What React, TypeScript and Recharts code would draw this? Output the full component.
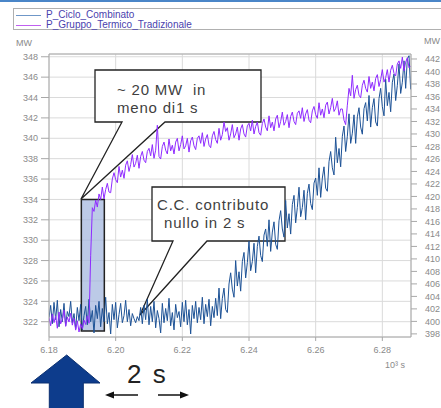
import { LineChart, Line, XAxis, YAxis, CartesianGrid, ReferenceArea, Customized } from 'recharts'

// sampling of the record (10^3 s)
const T0 = 6.18
const DT = 0.0005

const X_TICKS = [6.18, 6.2, 6.22, 6.24, 6.26, 6.28]
const LEFT_TICKS = [322, 324, 326, 328, 330, 332, 334, 336, 338, 340, 342, 344, 346, 348]
const RIGHT_TICKS = [
  398, 400, 402, 404, 406, 408, 410, 412, 414, 416, 418, 420,
  422, 424, 426, 428, 430, 432, 434, 436, 438, 440, 442,
]

// P_Ciclo_Combinato, MW (left axis)
const cicloCombinato = [
  322.4, 323.6, 321.8, 323.9, 322.2, 324.1, 321.5, 323.2, 322.0, 323.8,
  321.6, 323.0, 322.5, 324.0, 321.9, 322.8, 321.3, 323.4, 322.1, 323.7,
  321.2, 322.6, 323.5, 321.7, 324.2, 322.0, 323.1, 320.9, 323.6, 322.3,
  324.0, 321.5, 323.3, 322.0, 324.4, 321.8, 322.9, 320.8, 323.7, 322.2,
  323.9, 321.4, 322.7, 323.8, 321.9, 322.6, 324.1, 322.0, 323.2, 321.6,
  322.8, 322.3, 321.9, 322.5, 322.1, 323.4, 321.8, 323.6, 322.2, 324.2,
  321.7, 323.5, 322.0, 324.0, 321.4, 323.1, 322.3, 320.9, 323.8, 321.9,
  323.3, 322.1, 324.3, 321.6, 322.9, 321.2, 323.7, 322.4, 323.0, 321.5,
  323.9, 322.0, 324.1, 321.7, 323.2, 320.8, 323.6, 322.3, 324.0, 321.9,
  323.4, 322.2, 324.4, 321.8, 323.7, 322.5, 324.2, 321.6, 323.5, 322.4,
  324.3, 322.6, 325.3, 322.3, 324.3, 325.3, 323.2, 322.9, 325.7, 326.8,
  325.2, 324.4, 328.0, 325.5, 326.9, 325.0, 327.9, 328.8, 326.3, 327.8,
  329.9, 327.0, 327.9, 329.7, 326.8, 329.4, 330.4, 328.5, 327.9, 330.5,
  331.1, 329.4, 332.0, 328.9, 330.8, 331.8, 329.6, 329.1, 331.9, 332.9,
  331.1, 330.3, 333.9, 331.2, 332.6, 330.6, 333.5, 334.4, 331.7, 333.2,
  335.2, 332.3, 333.2, 334.9, 332.0, 334.6, 335.5, 333.6, 333.0, 335.6,
  336.1, 334.4, 337.1, 334.2, 336.1, 337.2, 335.1, 334.8, 337.7, 338.7,
  337.1, 336.4, 340.1, 337.6, 339.0, 337.2, 340.2, 341.2, 338.7, 340.2,
  342.4, 339.5, 340.5, 342.3, 339.5, 342.1, 343.0, 341.1, 340.4, 342.9,
  343.5, 341.7, 344.2, 341.1, 343.0, 343.9, 341.6, 341.2, 343.9, 344.9,
  343.1, 342.2, 345.8, 343.2, 344.5, 342.6, 345.5, 346.3, 343.7, 345.2,
  347.3, 344.4, 345.5, 347.6, 344.9, 347.8, 348.1, 344.8,
]

// P_Gruppo_Termico_Tradizionale, MW (right axis)
const gruppoTermico = [
  400.6, 399.3, 401.2, 399.8, 400.9, 398.9, 401.5, 399.6, 400.3, 401.8,
  399.2, 400.7, 399.9, 401.3, 399.4, 400.5, 398.6, 400.1, 398.3, 399.6,
  398.8, 400.2, 399.5, 400.9, 399.7, 410.5, 418.2, 417.6, 419.4, 418.3,
  420.4, 419.5, 421.5, 419.6, 421.1, 422.1, 420.7, 420.6, 422.8, 423.8,
  422.7, 422.2, 424.8, 423.1, 424.2, 422.9, 425.0, 425.7, 424.0, 425.1,
  426.7, 424.7, 425.3, 426.6, 424.5, 426.4, 427.2, 425.8, 425.4, 427.2,
  427.7, 426.5, 428.3, 426.1, 427.4, 431.4, 426.4, 426.0, 428.0, 428.7,
  427.4, 426.8, 429.2, 427.3, 428.2, 426.8, 428.7, 429.3, 427.3, 428.3,
  429.7, 427.6, 428.1, 429.3, 427.1, 428.9, 429.5, 428.1, 427.5, 429.3,
  429.7, 428.5, 430.2, 428.0, 429.2, 429.9, 428.2, 427.8, 429.7, 430.4,
  429.1, 428.5, 430.9, 429.0, 429.9, 431.9, 430.4, 431.0, 429.0, 430.0,
  431.5, 429.4, 430.0, 431.1, 429.0, 430.8, 431.5, 430.0, 429.5, 431.3,
  431.7, 430.5, 432.2, 430.0, 431.2, 431.9, 430.2, 429.8, 431.7, 432.4,
  431.1, 430.5, 432.9, 431.0, 431.9, 430.5, 432.4, 433.0, 431.0, 432.0,
  433.5, 431.4, 432.0, 433.1, 431.0, 432.8, 433.5, 432.0, 431.5, 433.3,
  433.7, 432.5, 434.2, 432.0, 433.2, 433.9, 432.2, 431.8, 433.7, 434.4,
  433.1, 432.5, 435.0, 433.0, 434.0, 432.6, 434.6, 435.1, 433.2, 434.2,
  435.7, 433.6, 434.1, 435.3, 433.0, 434.0, 434.0, 432.2, 431.5, 434.6,
  437.3, 436.1, 439.4, 435.7, 437.1, 437.8, 436.2, 435.8, 437.8, 438.6,
  437.3, 436.7, 439.2, 437.3, 438.3, 436.9, 438.9, 439.5, 437.6, 438.7,
  440.3, 438.3, 439.0, 440.3, 438.3, 440.2, 441.0, 439.7, 439.3, 441.2,
  441.7, 440.5, 442.3, 440.1, 441.5, 442.2, 440.6, 440.9,
]

const rows = cicloCombinato.map((v, i) => ({
  t: T0 + i * DT,
  ciclo: v,
  gruppo: gruppoTermico[i],
}))

const FONT = '"Liberation Sans", Arial, sans-serif'
const tickStyle = { fill: '#8a8a8a', fontSize: 9, fontFamily: FONT }

// callouts, arrow and "2 s" drawn on the svg (under the lines)
function Annotations() {
  const txt = {
    fontFamily: FONT,
    fontSize: 15,
    letterSpacing: 0.8,
    fill: '#3f3f3f',
    style: { whiteSpace: 'pre' as const },
  }
  return (
    <g>
      <path
        d="M95,70 H261 V122 H165 L81,199 L122,122 H95 Z"
        fill="#fff"
        stroke="#222"
        strokeWidth={1.3}
      />
      <text x={117} y={95} {...txt}>~ 20 MW  in</text>
      <text x={117} y={113} {...txt}>meno di1 s</text>

      <path
        d="M152,187 H285 V241 H207 L140,315 L173,241 H152 Z"
        fill="#fff"
        stroke="#222"
        strokeWidth={1.3}
      />
      <text x={157} y={210} {...txt}>C.C. contributo</text>
      <text x={164} y={228} {...txt}>nullo in 2 s</text>

      <line x1={49} y1={54} x2={411} y2={54} stroke="#a8a8a8" />

      <text x={385} y={368} fill="#8a8a8a" fontSize={9} fontFamily={FONT}>
        10³ s
      </text>

      <path
        d="M66.7,355 L100,383 H83.3 V410 H49.3 V383 H31 Z"
        fill="#0d3c8c"
        stroke="#0a2f70"
        strokeWidth={1}
      />
      <text x={127} y={383} fontSize={26} fontFamily={FONT} fill="#222" letterSpacing={2}>
        2 s
      </text>
      <line x1={112} y1={395} x2={138} y2={395} stroke="#111" strokeWidth={1.5} />
      <path d="M105,395 L114,391.5 L114,398.5 Z" fill="#111" />
      <line x1={158} y1={395} x2={182} y2={395} stroke="#111" strokeWidth={1.5} />
      <path d="M189,395 L180,391.5 L180,398.5 Z" fill="#111" />
    </g>
  )
}

function LegendBox() {
  const item = (color: string, label: string) => (
    <div style={{ display: 'flex', alignItems: 'center', height: 10 }}>
      <div style={{ width: 25, height: 0, borderTop: `1px solid ${color}`, marginLeft: 2, marginRight: 5 }} />
      <span style={{ fontSize: 10, color: '#4a3fae', fontFamily: FONT, lineHeight: '10px' }}>{label}</span>
    </div>
  )
  return (
    <div
      style={{
        position: 'absolute',
        left: 13,
        top: 8,
        width: 440,
        height: 22,
        border: '1px solid #b0b0b0',
        boxSizing: 'border-box',
        paddingTop: 1,
        background: '#fff',
      }}
    >
      {item('#6f97c8', 'P_Ciclo_Combinato')}
      {item('#c060f0', 'P_Gruppo_Termico_Tradizionale')}
    </div>
  )
}

export default function App() {
  return (
    <div
      style={{
        position: 'absolute',
        left: 0,
        top: 0,
        width: 441,
        height: 408,
        overflow: 'hidden',
        background: '#fff',
      }}
    >
      <div style={{ position: 'absolute', left: 0, top: 0, width: 441, height: 2, background: '#4a86c8' }} />
      <LineChart width={441} height={408} data={rows} margin={{ top: 54, right: 0, bottom: 51, left: 0 }}>
        <CartesianGrid yAxisId="left" stroke="#dadada" />
        <XAxis
          dataKey="t"
          type="number"
          domain={[6.18, 6.2886]}
          ticks={X_TICKS}
          allowDataOverflow
          height={20}
          tickSize={4}
          tickMargin={6}
          tick={tickStyle}
          tickFormatter={(v: number) => v.toFixed(2)}
          stroke="#a8a8a8"
        />
        <YAxis
          yAxisId="left"
          width={49}
          domain={[320.5, 348.27]}
          ticks={LEFT_TICKS}
          interval={0}
          allowDataOverflow
          tickSize={8}
          tickMargin={3}
          tick={tickStyle}
          stroke="#a8a8a8"
        />
        <YAxis
          yAxisId="right"
          orientation="right"
          width={30}
          domain={[397.5, 442.8]}
          ticks={RIGHT_TICKS}
          interval={0}
          allowDataOverflow
          tickSize={6}
          tickMargin={8}
          tick={tickStyle}
          stroke="#a8a8a8"
        />
        <Customized component={<Annotations />} />
        <Line
          yAxisId="left"
          dataKey="ciclo"
          type="linear"
          stroke="#1d5296"
          strokeWidth={1}
          dot={false}
          isAnimationActive={false}
        />
        <Line
          yAxisId="right"
          dataKey="gruppo"
          type="linear"
          stroke="#8f2bff"
          strokeWidth={1}
          dot={false}
          isAnimationActive={false}
        />
        <ReferenceArea
          yAxisId="left"
          x1={6.1897}
          x2={6.1966}
          y1={321.1}
          y2={334}
          fill="#9fb4dd"
          fillOpacity={0.7}
          stroke="#222"
          strokeWidth={1.5}
          ifOverflow="visible"
        />
      </LineChart>
      <LegendBox />
      <div style={{ position: 'absolute', left: 16, top: 38, fontSize: 9, color: '#8a8a8a', fontFamily: FONT }}>MW</div>
      <div style={{ position: 'absolute', left: 424, top: 36, fontSize: 9, color: '#8a8a8a', fontFamily: FONT }}>MW</div>
    </div>
  )
}
